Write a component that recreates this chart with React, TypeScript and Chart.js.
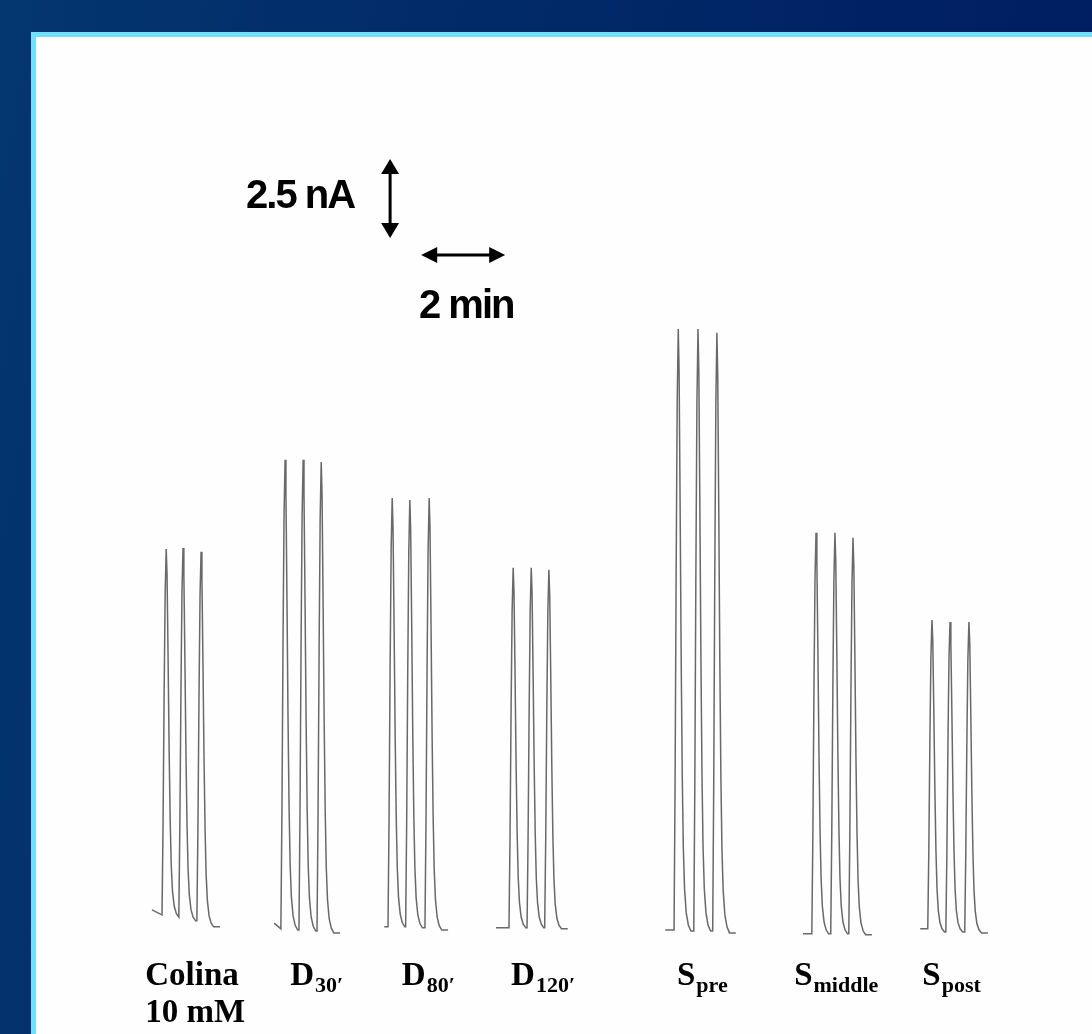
import React, { useEffect, useRef } from "react";
import { Chart, registerables } from "chart.js";

Chart.register(...registerables);

// Amperometric recording: three choline injections per condition.
// Time in minutes, current in nA.
const GROUP_NAMES = ["Colina", "D", "D", "D", "S", "S", "S"];
const GROUP_SUBS = ["", "30′", "80′", "120′", "pre", "middle", "post"];
const GROUP_SECOND_LINE = ["10 mM", "", "", "", "", "", ""];

// start of each trace segment
const LEAD_T = [2.76, 5.67, 8.29, 10.95, 14.98, 18.26, 21.05];
const LEAD_I = [0.51, 0.09, -0.03, -0.06, -0.13, -0.25, -0.09];

// peak times (min)
const PEAK_T = [
  [3.1, 3.5, 3.93],
  [5.93, 6.36, 6.79],
  [8.48, 8.9, 9.36],
  [11.36, 11.79, 12.21],
  [15.29, 15.76, 16.21],
  [18.57, 19.02, 19.45],
  [21.33, 21.76, 22.21],
];

// peak currents (nA)
const PEAK_I = [
  [11.93, 11.96, 11.84],
  [14.75, 14.75, 14.68],
  [13.54, 13.48, 13.54],
  [11.33, 11.33, 11.27],
  [18.89, 18.89, 18.77],
  [12.44, 12.44, 12.28],
  [9.68, 9.62, 9.62],
];

// baseline before each peak and after the last one (nA)
const BASE_I = [
  [0.35, 0.28, 0.16, -0.03],
  [-0.09, -0.13, -0.16, -0.22],
  [-0.03, -0.03, -0.06, -0.13],
  [-0.06, -0.06, -0.06, -0.09],
  [-0.13, -0.16, -0.16, -0.22],
  [-0.25, -0.25, -0.25, -0.28],
  [-0.09, -0.19, -0.19, -0.22],
];

// spike shape: [offset from peak (min), fraction of peak height]
const RISE = [
  [-0.1, 0],
  [-0.075, 0.25],
  [-0.05, 0.6],
  [-0.025, 0.88],
  [0, 1],
];
const FALL = [
  [0.02, 0.93],
  [0.045, 0.7],
  [0.07, 0.45],
  [0.095, 0.26],
  [0.12, 0.14],
  [0.15, 0.07],
  [0.19, 0.03],
  [0.24, 0.01],
  [0.3, 0],
];
const TAIL_T = 0.45;

// calibration bars
const BAR_NA = 2.5;
const BAR_MIN = 2;

// label anchors (min)
const LABEL_T = [2.6, 6.05, 8.71, 11.31, 15.26, 18.05, 21.1];

const X_MIN = 0;
const X_MAX = 25.14;
const Y_MIN = -3.42;
const Y_MAX = 28.13;

function buildTrace(g: number) {
  const pts: { x: number; y: number }[] = [{ x: LEAD_T[g], y: LEAD_I[g] }];
  for (let k = 0; k < PEAK_T[g].length; k++) {
    const tp = PEAK_T[g][k];
    const top = PEAK_I[g][k];
    const b0 = BASE_I[g][k];
    const b1 = BASE_I[g][k + 1];
    for (const [dt, f] of RISE) pts.push({ x: tp + dt, y: b0 + (top - b0) * f });
    for (const [dt, f] of FALL) pts.push({ x: tp + dt, y: b1 + (top - b1) * f });
  }
  const last = PEAK_T[g][PEAK_T[g].length - 1];
  pts.push({ x: last + TAIL_T, y: BASE_I[g][BASE_I[g].length - 1] });
  return pts;
}

const overlayPlugin = {
  id: "calibrationAndLabels",
  afterDatasetsDraw(chart: any) {
    const ctx = chart.ctx as CanvasRenderingContext2D;
    const xs = chart.scales.x;
    const ys = chart.scales.y;
    ctx.save();
    ctx.fillStyle = "#000";
    ctx.strokeStyle = "#000";

    // vertical bar: 2.5 nA
    const vx = xs.getPixelForValue(8.43);
    const vTop = ys.getPixelForValue(24.27);
    const vBot = ys.getPixelForValue(24.27 - BAR_NA);
    const head = 15;
    const hw = 9;
    ctx.lineWidth = 3;
    ctx.beginPath();
    ctx.moveTo(vx, vTop + head - 2);
    ctx.lineTo(vx, vBot - head + 2);
    ctx.stroke();
    ctx.beginPath();
    ctx.moveTo(vx, vTop);
    ctx.lineTo(vx - hw, vTop + head);
    ctx.lineTo(vx + hw, vTop + head);
    ctx.closePath();
    ctx.fill();
    ctx.beginPath();
    ctx.moveTo(vx, vBot);
    ctx.lineTo(vx - hw, vBot - head);
    ctx.lineTo(vx + hw, vBot - head);
    ctx.closePath();
    ctx.fill();

    // horizontal bar: 2 min
    const hy = ys.getPixelForValue(21.23);
    const hL = xs.getPixelForValue(9.17);
    const hR = xs.getPixelForValue(9.17 + BAR_MIN);
    const hh = 16;
    const hv = 8;
    ctx.beginPath();
    ctx.moveTo(hL + hh - 2, hy);
    ctx.lineTo(hR - hh + 2, hy);
    ctx.stroke();
    ctx.beginPath();
    ctx.moveTo(hL, hy);
    ctx.lineTo(hL + hh, hy - hv);
    ctx.lineTo(hL + hh, hy + hv);
    ctx.closePath();
    ctx.fill();
    ctx.beginPath();
    ctx.moveTo(hR, hy);
    ctx.lineTo(hR - hh, hy - hv);
    ctx.lineTo(hR - hh, hy + hv);
    ctx.closePath();
    ctx.fill();

    ctx.font = "bold 40px 'Liberation Sans', Arial, sans-serif";
    (ctx as any).letterSpacing = "-2px";
    ctx.textBaseline = "alphabetic";
    ctx.textAlign = "right";
    ctx.fillText(`${BAR_NA} nA`, vx - 36, vTop + 49);
    ctx.textAlign = "center";
    ctx.fillText(`${BAR_MIN} min`, (hL + hR) / 2 + 3, hy + 63);
    (ctx as any).letterSpacing = "0px";

    // condition labels
    const base1 = chart.chartArea.bottom - 49;
    const base2 = chart.chartArea.bottom - 12;
    ctx.textAlign = "left";
    for (let i = 0; i < GROUP_NAMES.length; i++) {
      const x = xs.getPixelForValue(LABEL_T[i]);
      ctx.font = "bold 33px 'Liberation Serif', 'Times New Roman', serif";
      ctx.fillText(GROUP_NAMES[i], x, base1);
      const w = ctx.measureText(GROUP_NAMES[i]).width;
      if (GROUP_SUBS[i]) {
        ctx.font = "bold 22px 'Liberation Serif', 'Times New Roman', serif";
        ctx.fillText(GROUP_SUBS[i], x + w + 1, base1 + 7);
      }
      if (GROUP_SECOND_LINE[i]) {
        ctx.font = "bold 33px 'Liberation Serif', 'Times New Roman', serif";
        ctx.fillText(GROUP_SECOND_LINE[i], x, base2);
      }
    }
    ctx.restore();
  },
};

export default function App() {
  const canvasRef = useRef<HTMLCanvasElement | null>(null);

  useEffect(() => {
    const canvas = canvasRef.current;
    if (!canvas) return;
    const datasets = PEAK_T.map((_, g) => ({
      label: GROUP_NAMES[g] + GROUP_SUBS[g],
      data: buildTrace(g),
      borderColor: "rgba(55,55,55,0.75)",
      borderWidth: 1.5,
      pointRadius: 0,
      tension: 0,
      fill: false,
    }));
    const chart = new Chart(canvas, {
      type: "line",
      data: { datasets },
      options: {
        animation: false,
        responsive: false,
        devicePixelRatio: 1,
        layout: { padding: 0 },
        plugins: {
          legend: { display: false },
          tooltip: { enabled: false },
        },
        scales: {
          x: { type: "linear", min: X_MIN, max: X_MAX, display: false },
          y: { type: "linear", min: Y_MIN, max: Y_MAX, display: false },
        },
      },
      plugins: [overlayPlugin],
    });
    return () => chart.destroy();
  }, []);

  return (
    <div
      style={{
        position: "fixed",
        left: 0,
        top: 0,
        width: 1092,
        height: 1034,
        overflow: "hidden",
        background: "linear-gradient(100deg, #04366f 0%, #012a68 40%, #001a60 100%)",
      }}
    >
      <div
        style={{
          position: "absolute",
          left: 31,
          top: 32,
          right: 0,
          bottom: 0,
          background: "#72e0fc",
        }}
      />
      <div
        style={{
          position: "absolute",
          left: 36,
          top: 37,
          right: 0,
          bottom: 0,
          background: "#fefefe",
        }}
      >
        <canvas ref={canvasRef} width={1056} height={997} style={{ display: "block" }} />
      </div>
    </div>
  );
}
